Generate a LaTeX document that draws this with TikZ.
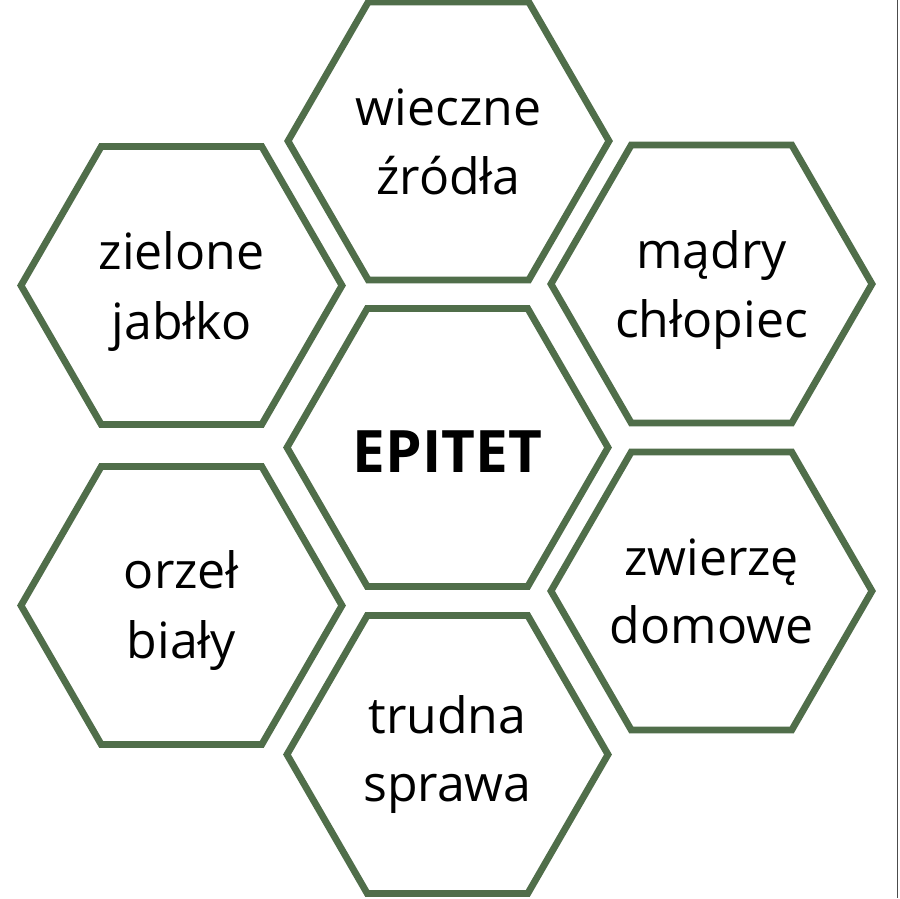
\documentclass[tikz,border=0pt]{standalone}
\usepackage{fontspec}
\setmainfont{Open Sans}
\definecolor{hexgreen}{RGB}{80,110,74}
\tikzset{
  hexline/.style={draw=hexgreen, line width=6.8pt, line join=miter},
  lbl/.style={anchor=base, inner sep=0pt, font=\fontsize{50}{60}\selectfont, text=black},
  bigl/.style={anchor=base, inner sep=0pt, font=\fontsize{58.5}{68}\selectfont\bfseries, text=black},
}
\newcommand{\hexdraw}[3]{%
  \coordinate (#1) at (#2,#3);
  \draw[hexline] (#1) ++(0:160.5) -- ++(120:160.5) -- ++(180:160.5) -- ++(240:160.5) -- ++(300:160.5) -- ++(0:160.5) -- cycle;
}
\begin{document}
\begin{tikzpicture}[x=1pt,y=-1pt]
\useasboundingbox (0,0) rectangle (900,898);
\fill[white] (0,0) rectangle (900,898);
\hexdraw{hT}{448.5}{141}
\hexdraw{hC}{447.5}{447.5}
\hexdraw{hLU}{181.5}{285.5}
\hexdraw{hRU}{711.5}{284}
\hexdraw{hLL}{181.5}{605.5}
\hexdraw{hRL}{711.5}{591}
\hexdraw{hB}{447.5}{754.5}
% labels
\node[lbl] (tTa) at (448.5,125) {wieczne};
\node[lbl] (tTb) at (448.5,194) {źródła};
\node[bigl] (tC) at (447.5,472) {EPITET};
\node[lbl] (tLUa) at (181.5,269) {zielone};
\node[lbl] (tLUb) at (181.5,339) {jabłko};
\node[lbl] (tRUa) at (711.5,268) {mądry};
\node[lbl] (tRUb) at (711.5,337) {chłopiec};
\node[lbl] (tLLa) at (181.5,588) {orzeł};
\node[lbl] (tLLb) at (181.5,658) {biały};
\node[lbl] (tRLa) at (711.5,575) {zwierzę};
\node[lbl] (tRLb) at (711.5,643) {domowe};
\node[lbl] (tBa) at (447.5,733) {trudna};
\node[lbl] (tBb) at (447.5,801) {sprawa};
% right edge line
\coordinate (eT) at (897.3,0);
\coordinate (eB) at (897.3,898);
\draw[gray!60!black, line width=1.2pt] (eT) -- (eB);
\end{tikzpicture}
\end{document}
